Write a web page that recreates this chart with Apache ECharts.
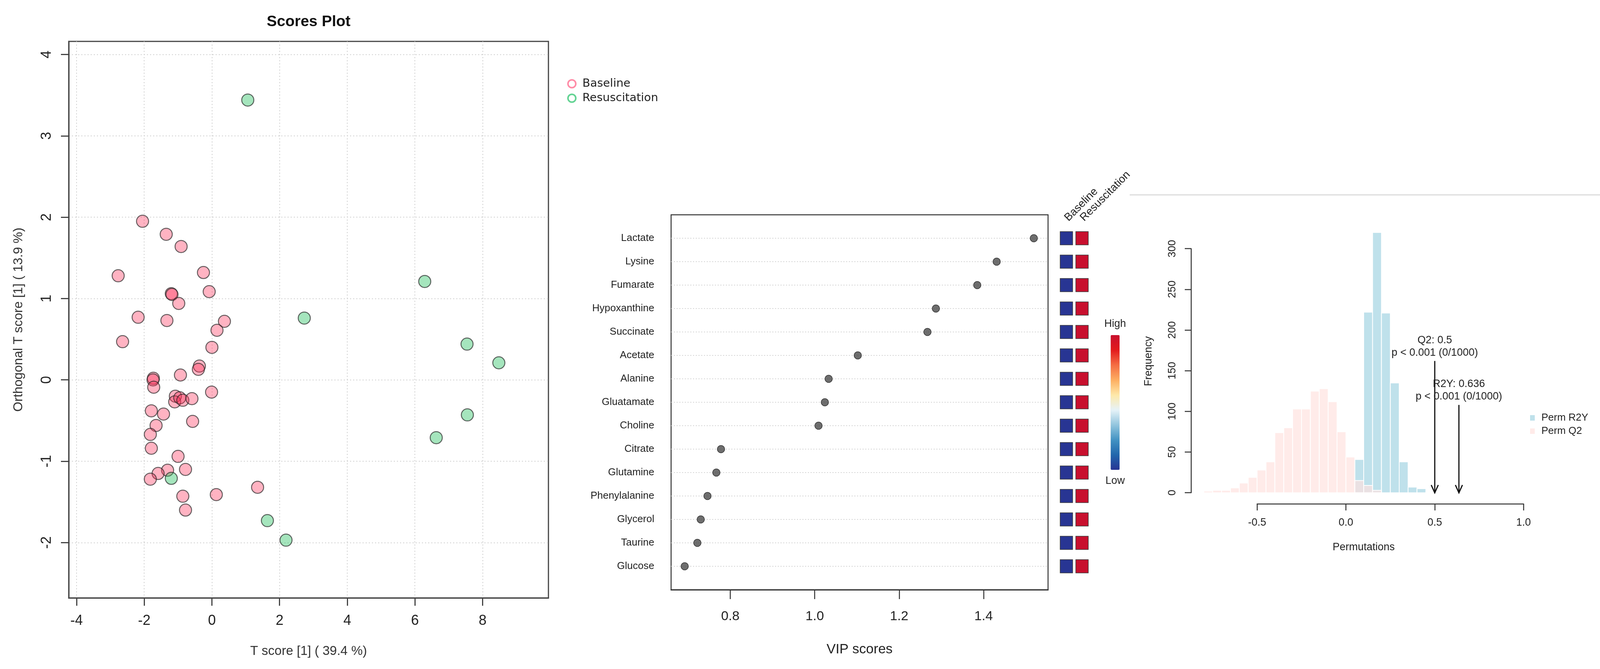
<!DOCTYPE html>
<html>
<head>
<meta charset="utf-8">
<script src="https://cdn.jsdelivr.net/npm/echarts@6/dist/echarts.min.js"></script>
<style>
html,body{margin:0;padding:0;background:#ffffff;}
#chart{width:4186px;height:1713px;}
</style>
</head>
<body>
<div id="chart"></div>
<script>
// ---------- Scores plot data ----------
const baselineScores = [
  [-2.05, 1.95], [-1.35, 1.79], [-0.91, 1.64], [-2.77, 1.28], [-0.25, 1.32],
  [-1.20, 1.06], [-1.18, 1.05], [-0.08, 1.085], [-0.98, 0.94], [-2.18, 0.77],
  [-1.33, 0.73], [0.37, 0.72], [0.15, 0.61], [-2.64, 0.47], [0.00, 0.40],
  [-0.37, 0.17], [-0.40, 0.13], [-0.93, 0.06], [-1.73, 0.02], [-1.74, 0.00],
  [-1.72, -0.09], [-0.01, -0.15], [-1.08, -0.20], [-1.10, -0.27], [-0.95, -0.22],
  [-0.86, -0.25], [-0.59, -0.23], [-1.79, -0.38], [-1.43, -0.42], [-0.57, -0.51],
  [-1.65, -0.56], [-1.82, -0.67], [-1.79, -0.84], [-1.00, -0.94], [-0.78, -1.10],
  [-1.31, -1.11], [-1.59, -1.15], [-1.82, -1.22], [1.35, -1.32], [0.13, -1.41],
  [-0.86, -1.43], [-0.78, -1.60]
];
const resuscitationScores = [
  [1.06, 3.44], [6.29, 1.21], [2.73, 0.76], [7.54, 0.44], [8.48, 0.21],
  [7.55, -0.43], [6.63, -0.71], [-1.20, -1.21], [1.64, -1.73], [2.19, -1.97]
];
const scoreXTicks = [-4, -2, 0, 2, 4, 6, 8];
const scoreYTicks = [-2, -1, 0, 1, 2, 3, 4];

// ---------- VIP data ----------
const metabolites = ['Lactate', 'Lysine', 'Fumarate', 'Hypoxanthine', 'Succinate', 'Acetate',
  'Alanine', 'Gluatamate', 'Choline', 'Citrate', 'Glutamine', 'Phenylalanine', 'Glycerol',
  'Taurine', 'Glucose'];
const vipScores = [1.519, 1.431, 1.385, 1.287, 1.267, 1.102, 1.033, 1.024, 1.009,
  0.778, 0.767, 0.746, 0.730, 0.722, 0.692];
const vipTicks = [0.8, 1.0, 1.2, 1.4];
const groups = ['Baseline', 'Resuscitation'];
const baselineLevel = [0, 0, 0, 0, 0, 0, 0, 0, 0, 0, 0, 0, 0, 0, 0];
const resuscitationLevel = [1, 1, 1, 1, 1, 1, 1, 1, 1, 1, 1, 1, 1, 1, 1];

// ---------- Permutation data ----------
const binWidth = 0.05;
const r2yBinStart = [0.05, 0.10, 0.15, 0.20, 0.25, 0.30, 0.35, 0.40, 0.45];
const r2yCounts = [41, 222, 320, 221, 135, 38, 7, 5, 1];
const q2BinStart = [-0.80, -0.75, -0.70, -0.65, -0.60, -0.55, -0.50, -0.45, -0.40, -0.35,
  -0.30, -0.25, -0.20, -0.15, -0.10, -0.05, 0.00, 0.05, 0.10, 0.15];
const q2Counts = [2, 3, 3, 6, 12, 19, 28, 38, 74, 80, 103, 103, 125, 128, 112, 75, 44, 15, 9, 3];
const arrowX = [0.5, 0.636];
const arrowTop = [162, 108];
const arrowLabels = ['Q2: 0.5\np < 0.001 (0/1000)', 'R2Y: 0.636\np < 0.001 (0/1000)'];

// ---------- build ----------
const FONT = "'Liberation Sans', Arial, sans-serif";
const TXT = '#222222';
const chart = echarts.init(document.getElementById('chart'), null, {renderer: 'canvas'});

const vipPoints = vipScores.map((v, i) => [v, i + 1]);
const heatPoints = [];
metabolites.forEach((m, i) => {
  heatPoints.push([0, i + 1, baselineLevel[i]]);
  heatPoints.push([1, i + 1, resuscitationLevel[i]]);
});
const r2yBars = r2yBinStart.map((s, i) => [s, s + binWidth, r2yCounts[i]]);
const q2Bars = q2BinStart.map((s, i) => [s, s + binWidth, q2Counts[i]]);
const arrows = arrowX.map((x, i) => [x, arrowTop[i], i]);

const R2Y_COLOR = 'rgba(173,216,230,0.78)';
const Q2_COLOR = 'rgba(255,226,223,0.68)';

function histItem(fill) {
  return function (params, api) {
    const p0 = api.coord([api.value(0), 0]);
    const p1 = api.coord([api.value(1), api.value(2)]);
    return {
      type: 'rect',
      shape: {x: p0[0], y: p1[1], width: p1[0] - p0[0], height: p0[1] - p1[1]},
      style: {fill: fill, stroke: '#ffffff', lineWidth: 2}
    };
  };
}

const hiddenAxis = {show: false};

const option = {
  animation: false,
  backgroundColor: '#ffffff',
  textStyle: {fontFamily: FONT},
  title: {
    text: 'Scores Plot', left: 790, top: 37, textAlign: 'center', padding: 0,
    textStyle: {fontSize: 39, fontWeight: 'bold', color: '#111', fontFamily: FONT}
  },
  legend: [
    {
      orient: 'vertical', left: 1452, top: 200, padding: 0, itemGap: 8,
      itemWidth: 20, itemHeight: 20, icon: 'circle',
      textStyle: {fontSize: 29, color: TXT, fontFamily: "'DejaVu Sans', sans-serif", padding: [0, 0, 0, 12]},
      data: [
        {name: 'Baseline', itemStyle: {color: 'rgba(0,0,0,0)', borderColor: '#ff6f91', borderWidth: 4}},
        {name: 'Resuscitation', itemStyle: {color: 'rgba(0,0,0,0)', borderColor: '#3cc878', borderWidth: 4}}
      ]
    },
    {
      orient: 'vertical', left: 3917, top: 1057, padding: 0, itemGap: 8,
      itemWidth: 12, itemHeight: 14, icon: 'rect',
      textStyle: {fontSize: 26, color: TXT, fontFamily: FONT, padding: [0, 0, 0, 12]},
      data: ['Perm R2Y', 'Perm Q2']
    }
  ],
  visualMap: {
    type: 'continuous', seriesIndex: 3, dimension: 2, min: 0, max: 1,
    calculable: false, orient: 'vertical', left: 2812, top: 801,
    itemWidth: 23, itemHeight: 345, text: ['High', 'Low'], textGap: 15,
    textStyle: {fontSize: 27, color: TXT, fontFamily: FONT},
    inRange: {color: ['#283593', '#2166ac', '#4393c3', '#92c5de', '#e6f3f8', '#fee8a8',
      '#fdae61', '#f46d43', '#e31a1c', '#c8102e']}
  },
  graphic: [
    {type: 'line', shape: {x1: 2892, y1: 499, x2: 4154, y2: 499}, style: {stroke: '#dcdcdc', lineWidth: 3}, silent: true}
  ],
  grid: [
    {left: 176, top: 106, width: 1228, height: 1425, show: true, borderColor: '#444', borderWidth: 3, outerBoundsMode: 'none'},
    {left: 1718, top: 550, width: 965, height: 960, show: true, borderColor: '#333', borderWidth: 2.5, outerBoundsMode: 'none'},
    {left: 2710, top: 550, width: 80, height: 960, outerBoundsMode: 'none'},
    {left: 3049, top: 559.8, width: 884.1, height: 730.1, outerBoundsMode: 'none'},
    {left: 3218.2, top: 1190, width: 682.1, height: 100, outerBoundsMode: 'none'},
    {left: 3049, top: 636.7, width: 100, height: 624.7, outerBoundsMode: 'none'}
  ],
  xAxis: [
    { // scores
      gridIndex: 0, type: 'value', min: -4.231, max: 9.946, minInterval: 2, maxInterval: 2,
      axisLine: {show: true, onZero: false, lineStyle: {color: '#444', width: 3}},
      axisTick: {show: true, length: 20, customValues: scoreXTicks, lineStyle: {color: '#444', width: 3}},
      axisLabel: {customValues: scoreXTicks,
        fontSize: 36, margin: 41, color: TXT, fontFamily: FONT},
      splitLine: {show: true,
        lineStyle: {color: '#d2d2d2', width: 2, type: [3, 5]}},
      name: 'T score [1] ( 39.4 %)', nameLocation: 'middle', nameGap: 120,
      nameTextStyle: {fontSize: 33, color: '#333', fontFamily: FONT}
    },
    { // VIP
      gridIndex: 1, type: 'value', min: 0.6598, max: 1.5527, minInterval: 0.2, maxInterval: 0.2,
      axisLine: {show: true, onZero: false, lineStyle: {color: '#333', width: 3}},
      axisTick: {show: true, length: 24, customValues: vipTicks, lineStyle: {color: '#333', width: 2.5}},
      axisLabel: {customValues: vipTicks,
        fontSize: 34, margin: 52, color: TXT, fontFamily: FONT,
        formatter: v => Number(v).toFixed(1)},
      splitLine: {show: false},
      name: 'VIP scores', nameLocation: 'middle', nameGap: 136,
      nameTextStyle: {fontSize: 35, color: TXT, fontFamily: FONT}
    },
    { // heat columns
      gridIndex: 2, type: 'category', data: groups, position: 'top', offset: -18,
      axisLine: {show: false}, axisTick: {show: false},
      axisLabel: {interval: 0, rotate: 45, margin: 6, fontSize: 28, color: TXT, fontFamily: FONT},
      splitLine: {show: false}
    },
    { // hist data
      gridIndex: 3, type: 'value', min: -0.872, max: 1.072,
      axisLine: {show: false, onZero: false}, axisTick: {show: false}, axisLabel: {show: false}, splitLine: {show: false},
      name: 'Permutations', nameLocation: 'middle', nameGap: 98,
      nameTextStyle: {fontSize: 27, color: TXT, fontFamily: FONT}
    },
    { // hist x display axis
      gridIndex: 4, type: 'value', min: -0.5, max: 1.0, interval: 0.5,
      axisLine: {show: true, onZero: false, lineStyle: {color: '#333', width: 2.5}},
      axisTick: {show: true, length: 17, lineStyle: {color: '#333', width: 2.5}},
      axisLabel: {fontSize: 27, margin: 35, color: TXT, fontFamily: FONT, formatter: v => Number(v).toFixed(1)},
      splitLine: {show: false}
    },
    Object.assign({gridIndex: 5, type: 'value', min: 0, max: 1}, hiddenAxis)
  ],
  yAxis: [
    { // scores
      gridIndex: 0, type: 'value', min: -2.68, max: 4.161, minInterval: 1, maxInterval: 1,
      axisLine: {show: true, onZero: false, lineStyle: {color: '#444', width: 3}},
      axisTick: {show: true, length: 20, customValues: scoreYTicks, lineStyle: {color: '#444', width: 3}},
      axisLabel: {customValues: scoreYTicks,
        rotate: 90, fontSize: 36, margin: 38, color: TXT, fontFamily: FONT},
      splitLine: {show: true,
        lineStyle: {color: '#d2d2d2', width: 2, type: [3, 5]}},
      name: 'Orthogonal T score [1] ( 13.9 %)', nameLocation: 'middle', nameGap: 112,
      nameTextStyle: {fontSize: 33, color: '#333', fontFamily: FONT}
    },
    { // VIP rows
      gridIndex: 1, type: 'value', min: 0, max: 16, interval: 1, inverse: true,
      axisLine: {show: false, onZero: false}, axisTick: {show: false},
      axisLabel: {fontSize: 26, margin: 43, color: TXT, fontFamily: FONT,
        formatter: v => (metabolites[v - 1] !== undefined ? metabolites[v - 1] : '')},
      splitLine: {show: true, showMinLine: false, showMaxLine: false,
        lineStyle: {color: '#d6d6d6', width: 2, type: [3, 4]}}
    },
    Object.assign({gridIndex: 2, type: 'value', min: 0, max: 16, inverse: true}, hiddenAxis),
    { // hist data
      gridIndex: 3, type: 'value', min: -13.5, max: 337,
      axisLine: {show: false, onZero: false}, axisTick: {show: false}, axisLabel: {show: false}, splitLine: {show: false},
      name: 'Frequency', nameLocation: 'middle', nameGap: 95,
      nameTextStyle: {fontSize: 27, color: TXT, fontFamily: FONT}
    },
    Object.assign({gridIndex: 4, type: 'value', min: 0, max: 1}, hiddenAxis),
    { // hist y display axis
      gridIndex: 5, type: 'value', min: 0, max: 300, interval: 50,
      axisLine: {show: true, onZero: false, lineStyle: {color: '#333', width: 2.5}},
      axisTick: {show: true, length: 16, lineStyle: {color: '#333', width: 2.5}},
      axisLabel: {rotate: 90, fontSize: 27, margin: 34, color: TXT, fontFamily: FONT},
      splitLine: {show: false}
    }
  ],
  series: [
    {
      name: 'Baseline', type: 'scatter', xAxisIndex: 0, yAxisIndex: 0,
      data: baselineScores, symbol: 'circle', symbolSize: 31,
      itemStyle: {color: 'rgba(255,45,85,0.45)', borderColor: 'rgba(35,35,35,0.85)', borderWidth: 2.5}
    },
    {
      name: 'Resuscitation', type: 'scatter', xAxisIndex: 0, yAxisIndex: 0,
      data: resuscitationScores, symbol: 'circle', symbolSize: 31,
      itemStyle: {color: 'rgba(30,190,90,0.5)', borderColor: 'rgba(35,35,35,0.85)', borderWidth: 2.5}
    },
    {
      name: 'VIP', type: 'scatter', xAxisIndex: 1, yAxisIndex: 1,
      data: vipPoints, symbol: 'circle', symbolSize: 19,
      itemStyle: {color: '#4a4a4a', borderColor: '#1a1a1a', borderWidth: 1.5}
    },
    {
      name: 'Levels', type: 'scatter', xAxisIndex: 2, yAxisIndex: 2,
      data: heatPoints, symbol: 'rect', symbolSize: [32, 34],
      itemStyle: {borderColor: '#3a3a3a', borderWidth: 1.5, opacity: 1}
    },
    {
      name: 'Perm R2Y', type: 'custom', xAxisIndex: 3, yAxisIndex: 3,
      data: r2yBars, encode: {x: [0, 1], y: 2},
      itemStyle: {color: R2Y_COLOR},
      renderItem: histItem(R2Y_COLOR)
    },
    {
      name: 'Perm Q2', type: 'custom', xAxisIndex: 3, yAxisIndex: 3,
      data: q2Bars, encode: {x: [0, 1], y: 2},
      itemStyle: {color: Q2_COLOR},
      renderItem: histItem(Q2_COLOR)
    },
    {
      name: 'Observed', type: 'custom', xAxisIndex: 3, yAxisIndex: 3,
      data: arrows, encode: {x: 0, y: 1},
      renderItem: function (params, api) {
        const x = api.value(0), top = api.value(1), idx = api.value(2);
        const pt = api.coord([x, top]);
        const pb = api.coord([x, 0]);
        return {
          type: 'group',
          children: [
            {type: 'line', shape: {x1: pt[0], y1: pt[1], x2: pb[0], y2: pb[1]},
              style: {stroke: '#111', lineWidth: 3}},
            {type: 'polyline', shape: {points: [[pb[0] - 9, pb[1] - 20], [pb[0], pb[1]], [pb[0] + 9, pb[1] - 20]]},
              style: {stroke: '#111', lineWidth: 3, fill: 'none'}},
            {type: 'text', style: {text: arrowLabels[idx], x: pt[0], y: pt[1] - 5,
              align: 'center', verticalAlign: 'bottom', fontSize: 27, lineHeight: 32,
              fill: TXT, fontFamily: FONT}}
          ]
        };
      }
    }
  ]
};
chart.setOption(option);
</script>
</body>
</html>
